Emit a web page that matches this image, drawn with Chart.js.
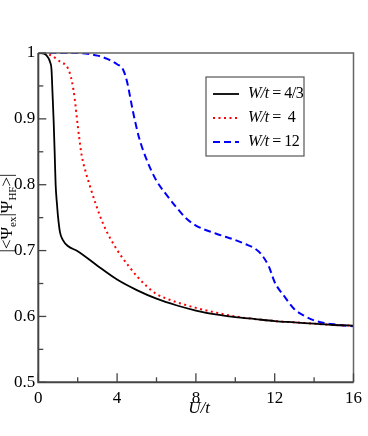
<!DOCTYPE html>
<html>
<head>
<meta charset="utf-8">
<script src="https://cdn.jsdelivr.net/npm/chart.js@4"></script>
<style>
  html, body { margin: 0; padding: 0; background: #fff; }
  #wrap { width: 368px; height: 436px; }
</style>
</head>
<body>
<div id="wrap"><canvas id="overlapChart" width="368" height="436"></canvas></div>
<script>
// U/t values and overlap |<Psi_ex|Psi_HF>| for each W/t
const uBlack = [0, 0.3, 0.5, 0.6, 0.67, 0.72, 0.78, 0.83, 0.88, 0.95, 1.0, 1.1, 1.25, 1.5, 2.0, 3.0, 4.0, 5.0, 6.0, 7.0, 8.0, 9.0, 10, 11, 12, 13, 14, 15, 16];
const vBlack = [1.0, 0.999, 0.993, 0.986, 0.975, 0.94, 0.896, 0.85, 0.80, 0.77, 0.752, 0.728, 0.716, 0.707, 0.699, 0.677, 0.656, 0.640, 0.627, 0.617, 0.609, 0.603, 0.599, 0.596, 0.593, 0.591, 0.589, 0.587, 0.586];

const uRed = [0, 0.6, 1.1, 1.5, 1.7, 1.85, 2.0, 2.2, 2.4, 2.6, 2.9, 3.3, 3.7, 4.2, 4.6, 5.1, 5.5, 6.0, 6.7, 7.3, 8, 9, 10, 11, 12, 13, 14, 15, 16];
const vRed = [1.0, 0.997, 0.987, 0.977, 0.958, 0.93, 0.89, 0.845, 0.82, 0.80, 0.772, 0.74, 0.716, 0.692, 0.676, 0.658, 0.646, 0.634, 0.625, 0.619, 0.613, 0.606, 0.600, 0.596, 0.593, 0.591, 0.589, 0.587, 0.586];

const uBlue = [0, 2, 3, 3.5, 4, 4.3, 4.5, 4.8, 5.1, 5.5, 6, 6.5, 7, 7.5, 8, 9, 10, 10.5, 11, 11.3, 11.7, 12, 12.5, 13, 13.5, 14, 14.5, 15, 16];
const vBlue = [1.0, 1.0, 0.996, 0.991, 0.983, 0.975, 0.957, 0.912, 0.873, 0.838, 0.806, 0.785, 0.766, 0.749, 0.738, 0.726, 0.716, 0.710, 0.703, 0.695, 0.676, 0.652, 0.630, 0.611, 0.601, 0.594, 0.590, 0.588, 0.585];

const seriesLabels = ['4/3', ' 4', '12'];
const xTickLabels = { 0: '0', 4: '4', 8: '8', 12: '12', 16: '16' };
const yTickLabels = { 0.5: '0.5', 0.6: '0.6', 0.7: '0.7', 0.8: '0.8', 0.9: '0.9', 1: '1' };

const serif = "'Liberation Serif', 'Times New Roman', serif";

function toPoints(us, vs) {
    return us.map((u, i) => ({ x: u, y: vs[i] }));
}

function findLabel(map, v) {
    for (const k of Object.keys(map)) {
        if (Math.abs(parseFloat(k) - v) < 1e-6) return map[k];
    }
    return '';
}

// frame, inside ticks, axis titles and legend
const decorations = {
    id: 'decorations',
    afterDatasetsDraw(chart) {
        const ctx = chart.ctx;
        const a = chart.chartArea;
        const xs = chart.scales.x;
        const ys = chart.scales.y;
        ctx.save();

        // frame
        ctx.strokeStyle = '#666';
        ctx.lineWidth = 1.5;
        ctx.beginPath();
        ctx.moveTo(a.left, a.top);
        ctx.lineTo(a.right, a.top);
        ctx.lineTo(a.right, a.bottom);
        ctx.stroke();
        ctx.strokeStyle = '#444';
        ctx.lineWidth = 2;
        ctx.beginPath();
        ctx.moveTo(a.left, a.top);
        ctx.lineTo(a.left, a.bottom);
        ctx.lineTo(a.right, a.bottom);
        ctx.stroke();

        // ticks pointing inward
        ctx.lineWidth = 1.3;
        xs.ticks.forEach(t => {
            const px = xs.getPixelForValue(t.value);
            const len = findLabel(xTickLabels, t.value) ? 9 : 5;
            ctx.beginPath();
            ctx.moveTo(px, a.bottom);
            ctx.lineTo(px, a.bottom - len);
            ctx.stroke();
        });
        ys.ticks.forEach(t => {
            const py = ys.getPixelForValue(t.value);
            const len = findLabel(yTickLabels, t.value) ? 8 : 5;
            ctx.beginPath();
            ctx.moveTo(a.left, py);
            ctx.lineTo(a.left + len, py);
            ctx.stroke();
        });

        // x title
        ctx.fillStyle = '#000';
        ctx.font = 'italic 17px ' + serif;
        ctx.textAlign = 'center';
        ctx.textBaseline = 'middle';
        ctx.fillText('U/t', 199, 409);

        // y title: |<Ψex|ΨHF>|
        const parts = [
            ['|<Ψ', false], ['ex', true], ['|Ψ', false], ['HF', true], ['>|', false]
        ];
        const bigFont = '17px ' + serif;
        const smallFont = '11px ' + serif;
        let total = 0;
        parts.forEach(p => {
            ctx.font = p[1] ? smallFont : bigFont;
            total += ctx.measureText(p[0]).width;
        });
        ctx.translate(8, 213);
        ctx.rotate(-Math.PI / 2);
        ctx.textAlign = 'left';
        let cx = -total / 2;
        parts.forEach(p => {
            ctx.font = p[1] ? smallFont : bigFont;
            ctx.fillText(p[0], cx, p[1] ? 5 : 0);
            cx += ctx.measureText(p[0]).width;
        });
        ctx.setTransform(1, 0, 0, 1, 0, 0);

        // legend box
        const box = { x: 206, y: 77, w: 98, h: 79 };
        ctx.fillStyle = '#fff';
        ctx.fillRect(box.x, box.y, box.w, box.h);
        ctx.strokeStyle = '#555';
        ctx.lineWidth = 1.2;
        ctx.strokeRect(box.x, box.y, box.w, box.h);
        const rows = [94, 118, 142];
        chart.data.datasets.forEach((ds, i) => {
            const y = rows[i];
            ctx.strokeStyle = ds.borderColor;
            ctx.lineWidth = ds.borderWidth;
            ctx.setLineDash(ds.borderDash || []);
            ctx.beginPath();
            ctx.moveTo(213, y);
            ctx.lineTo(239, y);
            ctx.stroke();
            ctx.setLineDash([]);
            ctx.fillStyle = '#000';
            ctx.textBaseline = 'middle';
            ctx.textAlign = 'left';
            ctx.letterSpacing = '-0.5px';
            let tx = 248;
            ctx.font = 'italic 16px ' + serif;
            ctx.fillText('W/t', tx, y);
            tx += ctx.measureText('W/t').width;
            ctx.font = '16px ' + serif;
            ctx.fillText(' = ' + seriesLabels[i], tx, y);
            ctx.letterSpacing = '0px';
        });

        ctx.restore();
    }
};

new Chart(document.getElementById('overlapChart').getContext('2d'), {
    type: 'line',
    data: {
        datasets: [
            {
                label: 'W/t = 4/3',
                data: toPoints(uBlack, vBlack),
                borderColor: '#000000',
                borderWidth: 1.8,
                pointRadius: 0,
                cubicInterpolationMode: 'monotone'
            },
            {
                label: 'W/t = 4',
                data: toPoints(uRed, vRed),
                borderColor: '#ff0000',
                borderWidth: 2,
                borderDash: [2, 3.5],
                pointRadius: 0,
                cubicInterpolationMode: 'monotone'
            },
            {
                label: 'W/t = 12',
                data: toPoints(uBlue, vBlue),
                borderColor: '#0000ff',
                borderWidth: 2,
                borderDash: [7, 4],
                pointRadius: 0,
                cubicInterpolationMode: 'monotone'
            }
        ]
    },
    options: {
        responsive: false,
        animation: false,
        layout: { padding: { left: 0, right: 8, top: 53, bottom: 0 } },
        plugins: {
            legend: { display: false },
            tooltip: { enabled: false }
        },
        scales: {
            x: {
                type: 'linear',
                min: 0,
                max: 16,
                grid: { display: false, drawTicks: false },
                border: { display: false },
                afterFit: s => { s.height = 53.7; },
                ticks: {
                    stepSize: 2,
                    padding: 6,
                    maxRotation: 0,
                    autoSkip: false,
                    color: '#000',
                    font: { family: serif, size: 17 },
                    callback: v => findLabel(xTickLabels, v)
                }
            },
            y: {
                min: 0.5,
                max: 1,
                grid: { display: false, drawTicks: false },
                border: { display: false },
                afterFit: s => { s.width = 38.3; },
                ticks: {
                    stepSize: 0.05,
                    padding: 3,
                    autoSkip: false,
                    color: '#000',
                    font: { family: serif, size: 17 },
                    callback: v => findLabel(yTickLabels, v)
                }
            }
        }
    },
    plugins: [decorations]
});
</script>
</body>
</html>
